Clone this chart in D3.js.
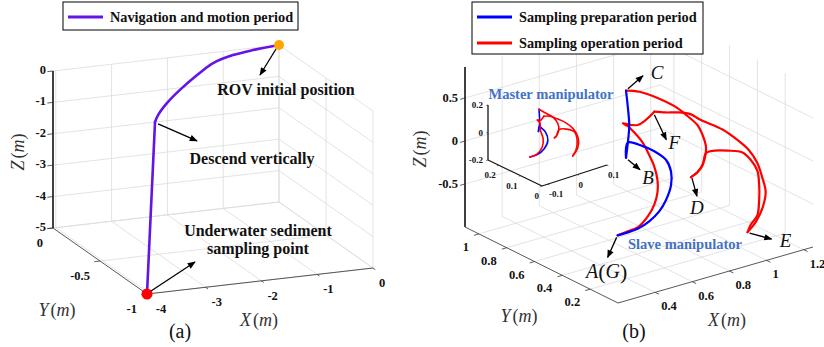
<!DOCTYPE html>
<html>
<head>
<meta charset="utf-8">
<script src="https://cdn.jsdelivr.net/npm/d3@7"></script>
<style>
  body { margin: 0; background: #fff; }
  svg { display: block; font-family: "Liberation Serif", "Times New Roman", serif; }
  .grid { stroke: #dcdcdc; stroke-width: 0.8; fill: none; }
  .tl { font-weight: bold; fill: #111; }
  .note { font-weight: bold; font-size: 16px; fill: #111; }
</style>
</head>
<body>
<svg id="chart" width="824" height="347"></svg>
<script>
// ---------- panel (a): ROV navigation, [x, y, z] in m
const navArc = [
  [0, 0, 0], [-0.49, -0.015, -0.03], [-0.875, -0.03, -0.08], [-1.25, -0.042, -0.23],
  [-1.56, -0.055, -0.52], [-1.89, -0.068, -0.9], [-2.14, -0.08, -1.24],
  [-2.32, -0.092, -1.56], [-2.39, -0.1, -1.75]
];
const navDescent = [[-2.39, -0.1, -1.75], [-4.05, -1, -5]];
const aXTicks = [-4, -3, -2, -1, 0];
const aYTicks = [-1, -0.5, 0];
const aZTicks = [-5, -4, -3, -2, -1, 0];

// ---------- panel (b): slave manipulator end-effector, [x, y, z] in m
const slaveBlueAB = [
  [0.61, 0.55, -0.91], [0.65, 0.52, -0.87], [0.69, 0.50, -0.83], [0.72, 0.47, -0.75],
  [0.76, 0.45, -0.64], [0.78, 0.43, -0.51], [0.80, 0.42, -0.34], [0.80, 0.42, -0.18],
  [0.78, 0.43, -0.04], [0.74, 0.46, 0.06], [0.70, 0.49, 0.12], [0.65, 0.53, 0.16],
  [0.64, 0.53, -0.01]
];
const slaveBlueBC = [[0.64, 0.53, -0.01], [0.65, 0.53, 0.16], [0.65, 0.52, 0.37], [0.65, 0.53, 0.57], [0.64, 0.53, 0.77]];
const slaveRedCD = [
  [0.64, 0.53, 0.77], [0.69, 0.50, 0.75], [0.75, 0.45, 0.68], [0.82, 0.40, 0.56],
  [0.85, 0.38, 0.48], [0.89, 0.35, 0.36], [0.91, 0.34, 0.24], [0.92, 0.33, 0.12],
  [0.92, 0.33, 0.03], [0.91, 0.34, -0.11], [0.89, 0.35, -0.19], [0.87, 0.37, -0.25]
];
const slaveRedDE = [
  [0.87, 0.37, -0.25], [0.89, 0.35, -0.19], [0.91, 0.34, -0.11], [0.92, 0.33, 0.03],
  [0.94, 0.32, 0.05], [1.00, 0.28, 0.05], [1.05, 0.24, 0.03], [1.08, 0.22, -0.06],
  [1.10, 0.20, -0.18], [1.11, 0.20, -0.35], [1.11, 0.20, -0.53], [1.10, 0.20, -0.70],
  [1.08, 0.22, -0.81], [1.07, 0.23, -0.90]
];
const slaveRedEF = [
  [1.07, 0.23, -0.90], [1.10, 0.21, -0.78], [1.12, 0.19, -0.62], [1.13, 0.18, -0.43],
  [1.12, 0.19, -0.27], [1.10, 0.20, -0.09], [1.07, 0.22, 0.06], [1.03, 0.25, 0.18],
  [0.98, 0.29, 0.30], [0.90, 0.35, 0.42], [0.87, 0.37, 0.48], [0.82, 0.40, 0.51],
  [0.78, 0.43, 0.51], [0.74, 0.46, 0.52]
];
const slaveRedFG = [
  [0.74, 0.46, 0.52], [0.68, 0.50, 0.37], [0.63, 0.54, 0.39], [0.65, 0.53, 0.35],
  [0.67, 0.51, 0.28], [0.70, 0.49, 0.16], [0.72, 0.47, 0.02], [0.74, 0.46, -0.12],
  [0.75, 0.45, -0.28], [0.75, 0.45, -0.41], [0.74, 0.46, -0.56], [0.72, 0.48, -0.70],
  [0.68, 0.50, -0.82], [0.65, 0.53, -0.87], [0.61, 0.55, -0.91]
];
const bXTicks = [0.4, 0.6, 0.8, 1, 1.2];
const bYTicks = [0.2, 0.4, 0.6, 0.8, 1];
const bZTicks = [-0.5, 0, 0.5];

// ---------- inset: master manipulator, [x, y, z] in m
const masterBlueAB = [
  [-0.088, 0.1, -0.087], [-0.063, 0.1, -0.087], [-0.040, 0.1, -0.062], [-0.027, 0.1, -0.008],
  [-0.035, 0.1, 0.057], [-0.050, 0.1, 0.101], [-0.056, 0.1, 0.113], [-0.059, 0.1, 0.079]
];
const masterBlueBC = [[-0.059, 0.1, 0.079], [-0.056, 0.1, 0.113], [-0.055, 0.1, 0.156], [-0.057, 0.1, 0.239]];
const masterRedCD = [
  [-0.057, 0.1, 0.239], [-0.044, 0.1, 0.213], [-0.010, 0.1, 0.149], [0.007, 0.1, 0.089],
  [0.010, 0.1, 0.043], [0.002, 0.1, 0.003], [-0.005, 0.1, -0.005]
];
const masterRedDE = [
  [-0.005, 0.1, -0.005], [0.002, 0.1, 0.003], [0.010, 0.1, 0.043], [0.036, 0.1, 0.030],
  [0.063, 0.1, -0.010], [0.072, 0.1, -0.077], [0.068, 0.1, -0.147], [0.057, 0.1, -0.180]
];
const masterRedEF = [
  [0.057, 0.1, -0.180], [0.074, 0.1, -0.134], [0.076, 0.1, -0.063], [0.059, 0.1, 0.016],
  [0.030, 0.1, 0.085], [0.004, 0.1, 0.127], [-0.021, 0.1, 0.164], [-0.041, 0.1, 0.177]
];
const masterRedFG = [
  [-0.041, 0.1, 0.177], [-0.051, 0.1, 0.155], [-0.063, 0.1, 0.166], [-0.054, 0.1, 0.137],
  [-0.052, 0.1, 0.081], [-0.043, 0.1, 0.015], [-0.046, 0.1, -0.043], [-0.065, 0.1, -0.083],
  [-0.088, 0.1, -0.087]
];
const mXTicks = [-0.1, 0, 0.1];
const mYTicks = [0, 0.1, 0.2];
const mZTicks = [-0.2, 0, 0.2];

const legendA = ["Navigation and motion period"];
const legendB = ["Sampling preparation period", "Sampling operation period"];

const PURPLE = "#6414e6", BLUE = "#0000ff", RED = "#ff0000", LABEL_BLUE = "#4472c4";

// ---------- helpers
const svg = d3.select("#chart");
const defs = svg.append("defs");
defs.append("marker").attr("id", "ah").attr("viewBox", "0 0 10 10")
  .attr("refX", 9).attr("refY", 5).attr("markerWidth", 9).attr("markerHeight", 8)
  .attr("markerUnits", "userSpaceOnUse").attr("orient", "auto")
  .append("path").attr("d", "M0,1L10,5L0,9Z").attr("fill", "#000");

// orthographic 3d -> screen, one linear scale per axis
function projector(origin, vx, vy, vz, dx, dy, dz) {
  const fx = d3.scaleLinear().domain(dx).range([0, 1]);
  const fy = d3.scaleLinear().domain(dy).range([0, 1]);
  const fz = d3.scaleLinear().domain(dz).range([0, 1]);
  const p = d => {
    const a = fx(d[0]), b = fy(d[1]), c = fz(d[2]);
    return [origin[0] + a * vx[0] + b * vy[0] + c * vz[0],
            origin[1] + a * vx[1] + b * vy[1] + c * vz[1]];
  };
  p.dom = [dx, dy, dz];
  return p;
}

const straight = d3.line();
const smooth = d3.line().curve(d3.curveCatmullRom.alpha(0.5));

function drawGrid(g, P, t) {
  const [X, Y, Z] = P.dom;
  const segs = [];
  t.x.forEach(x => segs.push([[x, Y[0], Z[0]], [x, Y[0], Z[1]]]));
  t.z.forEach(z => segs.push([[X[0], Y[0], z], [X[1], Y[0], z]]));
  t.y.forEach(y => segs.push([[X[1], y, Z[0]], [X[1], y, Z[1]]]));
  t.z.forEach(z => segs.push([[X[1], Y[0], z], [X[1], Y[1], z]]));
  t.x.forEach(x => segs.push([[x, Y[0], Z[0]], [x, Y[1], Z[0]]]));
  t.y.forEach(y => segs.push([[X[0], y, Z[0]], [X[1], y, Z[0]]]));
  g.append("g").selectAll("path").data(segs).join("path")
    .attr("class", "grid").attr("d", s => straight(s.map(P)));
}

function drawAxes(g, P, t, o) {
  const [X, Y, Z] = P.dom;
  const tx = 0.025 * (X[1] - X[0]), ty = 0.025 * (Y[1] - Y[0]);
  g.append("path").attr("d", straight([[X[0], Y[0], Z[0]], [X[0], Y[0], Z[1]]].map(P)))
    .attr("stroke", "#000").attr("stroke-width", o.zw).attr("fill", "none");
  g.append("path").attr("d", straight([[X[0], Y[0], Z[0]], [X[0], Y[1], Z[0]]].map(P)))
    .attr("stroke", o.xyColor).attr("stroke-width", o.xyw).attr("fill", "none");
  g.append("path").attr("d", straight([[X[0], Y[1], Z[0]], [X[1], Y[1], Z[0]]].map(P)))
    .attr("stroke", o.xyColor).attr("stroke-width", o.xyw).attr("fill", "none");
  const ticks = [];
  t.z.forEach(z => ticks.push([[X[0], Y[0], z], [X[0] - tx, Y[0], z]]));
  t.y.forEach(y => ticks.push([[X[0], y, Z[0]], [X[0] - tx, y, Z[0]]]));
  t.x.forEach(x => ticks.push([[x, Y[1], Z[0]], [x, Y[1] + ty, Z[0]]]));
  g.append("g").selectAll("path").data(ticks).join("path")
    .attr("d", s => straight(s.map(P))).attr("stroke", "#333").attr("stroke-width", 0.8);

  const lab = g.append("g").attr("class", "tl").style("font-size", o.fs + "px");
  lab.selectAll(".zl").data(t.z).join("text").attr("class", "zl")
    .attr("x", z => P([X[0], Y[0], z])[0] + o.zOff[0])
    .attr("y", z => P([X[0], Y[0], z])[1] + o.zOff[1])
    .attr("text-anchor", "end").attr("dominant-baseline", "central").text(String);
  lab.selectAll(".yl").data(t.y).join("text").attr("class", "yl")
    .attr("x", y => P([X[0], y, Z[0]])[0] + o.yOff[0])
    .attr("y", y => P([X[0], y, Z[0]])[1] + o.yOff[1])
    .attr("text-anchor", "end").attr("dominant-baseline", "central").text(String);
  lab.selectAll(".xl").data(t.x).join("text").attr("class", "xl")
    .attr("x", x => P([x, Y[1], Z[0]])[0] + o.xOff[0])
    .attr("y", x => P([x, Y[1], Z[0]])[1] + o.xOff[1])
    .attr("text-anchor", "start").attr("dominant-baseline", "central").text(String);
}

function trace(g, P, pts, color, w, curve) {
  g.append("path").attr("d", (curve || smooth)(pts.map(P)))
    .attr("fill", "none").attr("stroke", color).attr("stroke-width", w)
    .attr("stroke-linejoin", "round").attr("stroke-linecap", "round");
}

function arrow(g, p, from, to) {
  g.append("line").attr("x1", p[0] + from[0]).attr("y1", p[1] + from[1])
    .attr("x2", p[0] + to[0]).attr("y2", p[1] + to[1])
    .attr("stroke", "#000").attr("stroke-width", 1.3).attr("marker-end", "url(#ah)");
}

// axis title such as Y(m): italic letters, upright brackets
function mathTitle(g, x, y, letter, rot) {
  const t = g.append("text").attr("x", x).attr("y", y)
    .attr("text-anchor", "middle").attr("dominant-baseline", "central")
    .style("font-size", "18px").attr("fill", "#333");
  if (rot) t.attr("transform", `rotate(-90,${x},${y})`);
  t.append("tspan").style("font-style", "italic").text(letter);
  t.append("tspan").attr("dx", 2).text("(");
  t.append("tspan").style("font-style", "italic").text("m");
  t.append("tspan").text(")");
}

function legend(g, x, y, w, h, items, colors) {
  g.append("rect").attr("x", x).attr("y", y).attr("width", w).attr("height", h)
    .attr("fill", "#fff").attr("stroke", "#000").attr("stroke-width", 1);
  items.forEach((s, i) => {
    const cy = y + 15 + i * 26;
    g.append("line").attr("x1", x + 5).attr("x2", x + 40).attr("y1", cy).attr("y2", cy)
      .attr("stroke", colors[i]).attr("stroke-width", 3);
    g.append("text").attr("x", x + 47).attr("y", cy).attr("dominant-baseline", "central")
      .style("font-weight", "bold").style("font-size", "14.3px").attr("fill", "#111").text(s);
  });
}

// ================= panel (a)
const PA = projector([53, 228], [226, -26], [94, 66], [0, -157], [-4.05, 0], [0, -1], [-5, 0]);
const ga = svg.append("g");
drawGrid(ga, PA, { x: aXTicks, y: aYTicks, z: aZTicks });
drawAxes(ga, PA, { x: aXTicks, y: aYTicks, z: aZTicks },
  { zw: 1.5, xyw: 0.9, xyColor: "#444", fs: 12.5, zOff: [-7, -1], yOff: [-10, 15], xOff: [6, 15] });
trace(ga, PA, navArc, PURPLE, 2.6);
trace(ga, PA, navDescent, PURPLE, 2.6, straight);
const start = PA(navArc[0]), goal = PA(navDescent[1]), kink = PA(navDescent[0]);
ga.append("circle").attr("cx", start[0]).attr("cy", start[1]).attr("r", 5).attr("fill", "#ffa500");
ga.append("circle").attr("cx", goal[0]).attr("cy", goal[1]).attr("r", 5.5).attr("fill", RED);
arrow(ga, start, [-3, 4], [-19, 30]);
arrow(ga, kink, [3, 2], [42, 19]);
arrow(ga, goal, [4, -3], [48, -32]);
ga.append("text").attr("class", "note").attr("x", 286).attr("y", 95).attr("text-anchor", "middle").text("ROV initial position");
ga.append("text").attr("class", "note").attr("x", 252).attr("y", 164).attr("text-anchor", "middle").text("Descend vertically");
ga.append("text").attr("class", "note").attr("x", 258).attr("y", 236).attr("text-anchor", "middle").text("Underwater sediment");
ga.append("text").attr("class", "note").attr("x", 258).attr("y", 254).attr("text-anchor", "middle").text("sampling point");
mathTitle(ga, 18, 152, "Z", true);
mathTitle(ga, 57, 310, "Y");
mathTitle(ga, 259, 320, "X");
ga.append("text").attr("x", 180).attr("y", 331).attr("text-anchor", "middle")
  .attr("dominant-baseline", "central").style("font-size", "20px").attr("fill", "#111").text("(a)");
legend(ga, 63, 2, 235, 28, legendA, [PURPLE]);

// ================= panel (b)
const PB = projector([465, 227], [195, -56], [153, 76], [0, -160], [0.2, 1.25], [1.1, 0], [-1, 0.86]);
const gb = svg.append("g");
drawGrid(gb, PB, { x: bXTicks, y: bYTicks, z: bZTicks });
drawAxes(gb, PB, { x: bXTicks, y: bYTicks, z: bZTicks },
  { zw: 1.5, xyw: 0.9, xyColor: "#444", fs: 12.5, zOff: [-7, 0], yOff: [-10, 13], xOff: [6, 14] });

// inset axes (master manipulator)
const PM = projector([488, 160], [65, -21], [54, 26], [0, -55], [-0.12, 0.1], [0.25, 0], [-0.2, 0.2]);
drawAxes(gb, PM, { x: mXTicks, y: mYTicks, z: mZTicks },
  { zw: 1.2, xyw: 1.1, xyColor: "#111", fs: 9, zOff: [-5, 0], yOff: [-3, 10], xOff: [1, 10] });
[masterBlueAB, masterBlueBC].forEach(s => trace(gb, PM, s, BLUE, 1.6));
[masterRedCD, masterRedDE, masterRedEF, masterRedFG].forEach(s => trace(gb, PM, s, RED, 1.6));

[slaveRedCD, slaveRedDE, slaveRedEF, slaveRedFG].forEach(s => trace(gb, PB, s, RED, 2.2));
[slaveBlueAB, slaveBlueBC].forEach(s => trace(gb, PB, s, BLUE, 2.2));

const key = {
  A: PB(slaveRedFG[slaveRedFG.length - 1]), B: PB(slaveBlueBC[0]), C: PB(slaveBlueBC[slaveBlueBC.length - 1]),
  D: PB(slaveRedCD[slaveRedCD.length - 1]), E: PB(slaveRedDE[slaveRedDE.length - 1]), F: PB(slaveRedEF[slaveRedEF.length - 1])
};
arrow(gb, key.C, [2, -2], [17, -15]);
arrow(gb, key.B, [2, 2], [14, 12]);
arrow(gb, key.D, [1, 1], [6, 19]);
arrow(gb, key.E, [2, 1], [24, 7]);
arrow(gb, key.F, [0, 3], [12, 28]);
arrow(gb, key.A, [-1, 2], [-10, 22]);
const letters = [["C", [31, -18]], ["B", [22, 20]], ["D", [6, 30]], ["E", [38, 8]], ["F", [20, 31]]];
letters.forEach(([s, off]) => {
  gb.append("text").attr("x", key[s][0] + off[0]).attr("y", key[s][1] + off[1])
    .attr("text-anchor", "middle").attr("dominant-baseline", "central")
    .style("font-style", "italic").style("font-size", "19px").attr("fill", "#111").text(s);
});
const ag = gb.append("text").attr("x", key.A[0] - 11).attr("y", key.A[1] + 36)
  .attr("text-anchor", "middle").attr("dominant-baseline", "central")
  .style("font-size", "20px").attr("fill", "#111");
ag.append("tspan").style("font-style", "italic").text("A");
ag.append("tspan").style("font-size", "22px").text("(");
ag.append("tspan").style("font-style", "italic").text("G");
ag.append("tspan").style("font-size", "22px").text(")");

gb.append("text").attr("x", 551).attr("y", 94).attr("text-anchor", "middle").attr("dominant-baseline", "central")
  .style("font-weight", "bold").style("font-size", "14.5px").attr("fill", LABEL_BLUE).text("Master manipulator");
gb.append("text").attr("x", 685).attr("y", 244).attr("text-anchor", "middle").attr("dominant-baseline", "central")
  .style("font-weight", "bold").style("font-size", "14.5px").attr("fill", LABEL_BLUE).text("Slave manipulator");

mathTitle(gb, 420, 149, "Z", true);
mathTitle(gb, 519, 316, "Y");
mathTitle(gb, 727, 320, "X");
gb.append("text").attr("x", 634).attr("y", 331).attr("text-anchor", "middle")
  .attr("dominant-baseline", "central").style("font-size", "20px").attr("fill", "#111").text("(b)");
legend(gb, 472, 2, 231, 52, legendB, [BLUE, RED]);
</script>
</body>
</html>
